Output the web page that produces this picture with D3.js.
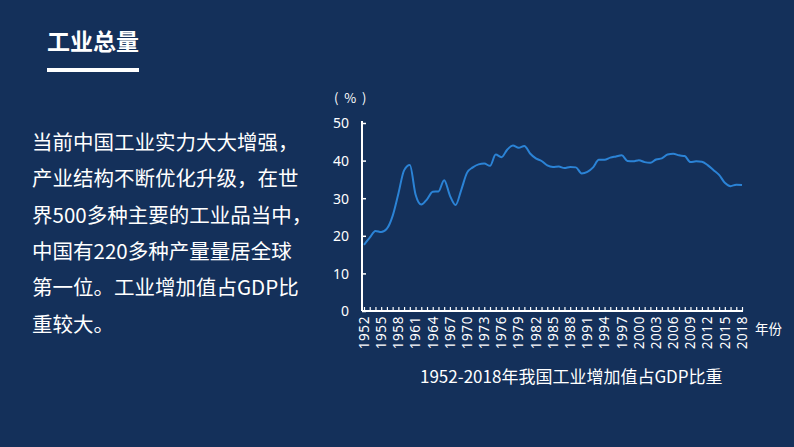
<!DOCTYPE html>
<html><head><meta charset="utf-8">
<script src="https://cdn.jsdelivr.net/npm/d3@7"></script>
<style>
html,body{margin:0;padding:0;background:#14305a;}
svg{display:block;font-family:"Microsoft YaHei","Noto Sans CJK SC",sans-serif;}
</style></head><body>
<svg id="c" width="794" height="447"></svg>
<script>
const years = d3.range(1952, 2019);
const shares = [17.6,19.5,21.3,21.0,21.9,25.3,31.2,37.4,38.8,31.0,28.3,29.7,31.7,31.8,34.8,30.7,28.2,32.3,36.8,38.2,39.0,39.2,38.6,41.6,40.9,42.9,44.0,43.4,43.9,41.9,40.6,39.9,38.7,38.3,38.4,38.0,38.3,38.2,36.6,37.0,38.2,40.2,40.2,40.8,41.1,41.4,39.9,39.8,40.1,39.6,39.4,40.3,40.6,41.6,41.8,41.4,41.2,39.6,39.8,39.7,38.8,37.5,36.2,34.1,33.2,33.6,33.5];
const yTicks = [0,10,20,30,40,50];
const xLabelYears = d3.range(1952, 2019, 3);
const textLines = ["当前中国工业实力大大增强，","产业结构不断优化升级，在世","界500多种主要的工业品当中，","中国有220多种产量量居全球","第一位。工业增加值占GDP比","重较大。"];
const heading = "工业总量";
const chartTitle = "1952-2018年我国工业增加值占GDP比重";

const svg = d3.select("#c");
svg.append("rect").attr("width",794).attr("height",447).attr("fill","#14305a");

svg.append("text").attr("x",47).attr("y",50).attr("fill","#fff")
  .attr("font-size",23).attr("font-weight","bold").text(heading);
svg.append("rect").attr("x",47).attr("y",68).attr("width",92).attr("height",4).attr("fill","#fff");

svg.append("g").selectAll("text").data(textLines).join("text")
  .attr("x",32).attr("y",(d,i)=>150+i*36.3).attr("fill","#fff")
  .attr("font-size",20.5).text(d=>d);

const x = d3.scaleLinear().domain([1952,2018]).range([364,742]);
const y = d3.scaleLinear().domain([0,50]).range([311,123]);

const gy = svg.append("g").attr("transform","translate(362,0)")
  .call(d3.axisRight(y).tickValues(yTicks).tickSize(4).tickSizeOuter(0).tickFormat(d3.format("d")));
gy.select(".domain").attr("stroke","#fff").attr("stroke-width",2).attr("d","M0,"+(y(50)-2)+"V"+y(0));
gy.selectAll(".tick line").attr("stroke","#fff").attr("stroke-width",1.5);
gy.selectAll(".tick text").attr("x",-13).attr("text-anchor","end").attr("fill","#fff")
  .attr("font-size",14).attr("font-family","Noto Sans, sans-serif").attr("dy","0.35em");

const gx = svg.append("g").attr("transform","translate(0,311)")
  .call(d3.axisTop(x).tickValues(years).tickSize(4).tickSizeOuter(0).tickFormat(""));
gx.select(".domain").attr("stroke","#fff").attr("stroke-width",2).attr("d","M362,0H743");
gx.selectAll(".tick line").attr("stroke","#fff").attr("stroke-width",1.2);

svg.append("g").selectAll("text").data(xLabelYears).join("text")
  .attr("transform",d=>`translate(${x(d)+4.8},316) rotate(-90)`)
  .attr("text-anchor","end").attr("fill","#fff").attr("font-size",13.5)
  .attr("font-family","Noto Sans, sans-serif").attr("letter-spacing","0.6")
  .text(d=>d);

const line = d3.line().x((d,i)=>x(years[i])).y(d=>y(d)).curve(d3.curveMonotoneX);
svg.append("path").datum(shares).attr("d",line).attr("fill","none")
  .attr("stroke","#2b83d6").attr("stroke-width",2);

svg.append("text").attr("x",334).attr("y",103).attr("fill","#fff").attr("font-size",13)
  .attr("xml:space","preserve").text("(  %  )");
svg.append("text").attr("x",755).attr("y",334).attr("fill","#fff").attr("font-size",13.5).text("年份");
svg.append("text").attr("x",420).attr("y",383).attr("fill","#fff").attr("font-size",17)
  .attr("font-family","Noto Sans CJK SC, sans-serif").text(chartTitle);
</script></body></html>
